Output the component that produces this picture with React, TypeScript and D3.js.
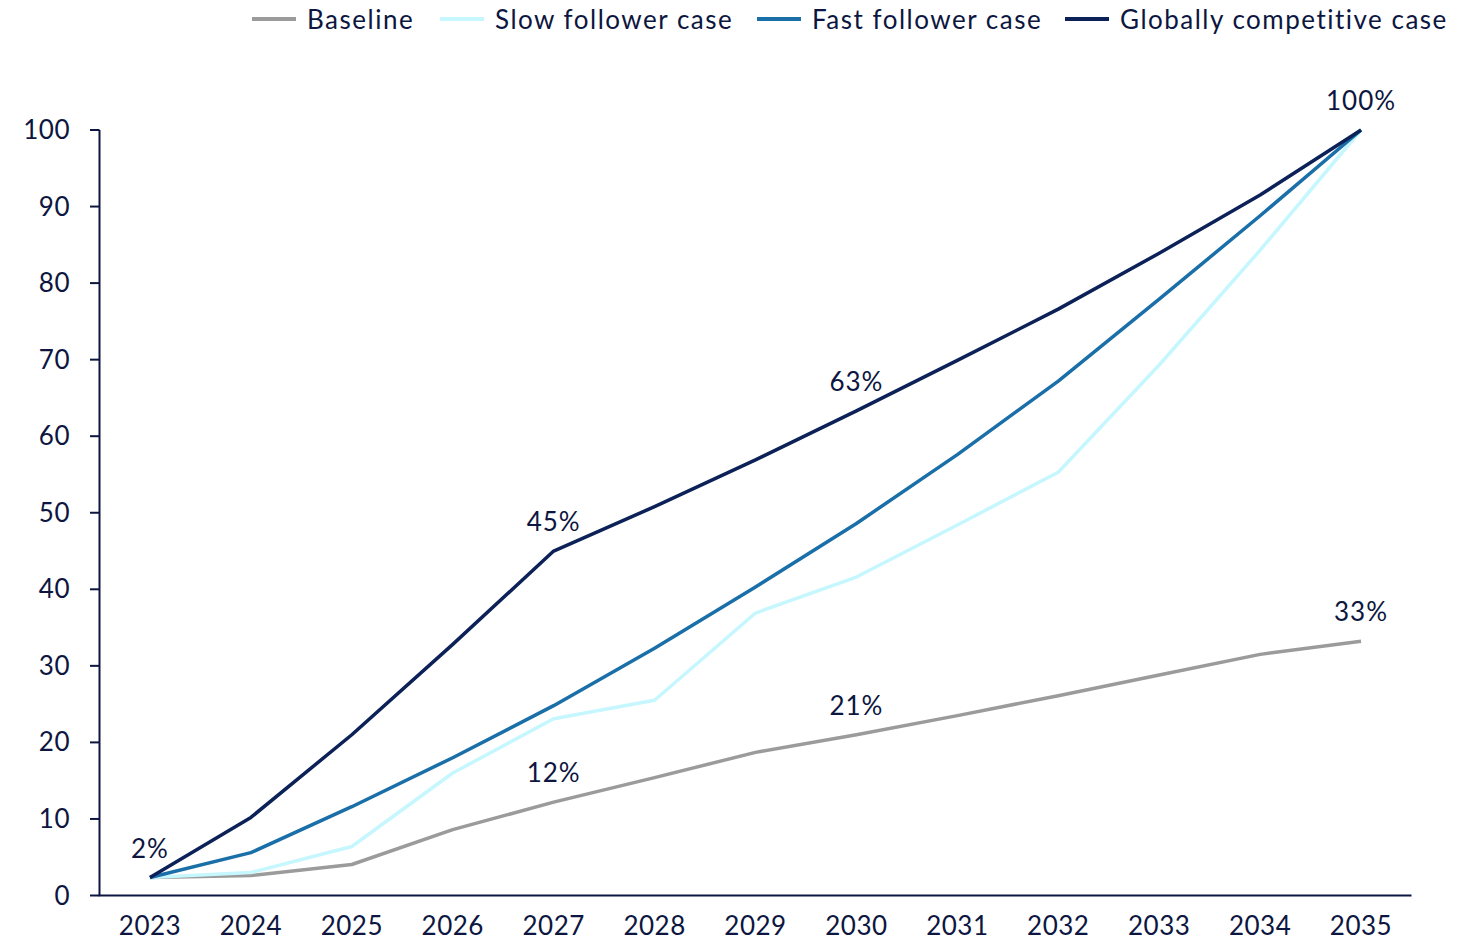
import React from "react";
import * as d3 from "d3";

const years = ["2023","2024","2025","2026","2027","2028","2029","2030","2031","2032","2033","2034","2035"];
const baseline = [2.35, 2.6, 4.05, 8.6, 12.2, 15.4, 18.7, 21, 23.5, 26.1, 28.8, 31.5, 33.2];
const slowFollower = [2.35, 3.0, 6.4, 16, 23.1, 25.5, 36.9, 41.6, 48.4, 55.3, 69.3, 84.3, 100];
const fastFollower = [2.35, 5.6, 11.6, 18, 24.8, 32.3, 40.3, 48.6, 57.6, 67.2, 77.9, 88.8, 100];
const globallyCompetitive = [2.35, 10.2, 21, 32.8, 45, 50.8, 56.9, 63.3, 69.9, 76.6, 83.9, 91.5, 100];
const yTicks = [0, 10, 20, 30, 40, 50, 60, 70, 80, 90, 100];

const seriesNames = ["Baseline", "Slow follower case", "Fast follower case", "Globally competitive case"];
const seriesColors = ["#9b9b9b", "#c6f7fe", "#1a6fa8", "#0b2157"];
const seriesValues = [baseline, slowFollower, fastFollower, globallyCompetitive];

// annotations: [seriesIndex, yearIndex, label]
const annotations: [number, number, string][] = [
  [0, 0, "2%"],
  [0, 4, "12%"],
  [0, 7, "21%"],
  [0, 12, "33%"],
  [3, 4, "45%"],
  [3, 7, "63%"],
  [3, 12, "100%"],
];

const legendX = [252, 440, 757, 1065];

const TEXT = "#0c1640";
const FONT = "Lato, 'Open Sans', sans-serif";

export default function App() {
  const W = 1481, H = 941;
  const x = d3.scalePoint<string>().domain(years).range([99.5, 1411.5]).padding(0.5);
  const y = d3.scaleLinear().domain([0, 100]).range([895.5, 130]);
  const line = d3.line<number>().x((_, i) => x(years[i])!).y((d) => y(d));

  return (
    <svg width={W} height={H} style={{ position: "absolute", left: 0, top: 0, background: "#fff" }} fontFamily={FONT}>
      {/* legend */}
      {seriesNames.map((n, i) => (
        <g key={n}>
          <line x1={legendX[i]} x2={legendX[i] + 44} y1={19} y2={19} stroke={seriesColors[i]} strokeWidth={4} />
          <text x={legendX[i] + 55} y={29} fontSize={26} letterSpacing={1.5} fill={TEXT}>{n}</text>
        </g>
      ))}
      {/* axes */}
      <line x1={99.5} x2={99.5} y1={130} y2={896} stroke={TEXT} strokeWidth={2} />
      <line x1={98.5} x2={1411.5} y1={895.5} y2={895.5} stroke={TEXT} strokeWidth={2} />
      {yTicks.map((t) => (
        <g key={t}>
          <line x1={90} x2={99.5} y1={y(t)} y2={y(t)} stroke={TEXT} strokeWidth={2} />
          <text x={70} y={y(t) + 9} fontSize={26} letterSpacing={0.5} fill={TEXT} textAnchor="end">{t}</text>
        </g>
      ))}
      {years.map((yr) => (
        <text key={yr} x={x(yr)} y={935} fontSize={26} letterSpacing={0.5} fill={TEXT} textAnchor="middle">{yr}</text>
      ))}
      {/* lines */}
      {seriesValues.map((vals, i) => (
        <path key={i} d={line(vals)!} fill="none" stroke={seriesColors[i]} strokeWidth={3.5} strokeLinejoin="round" />
      ))}
      {/* annotations */}
      {annotations.map(([s, yi, lab], k) => (
        <text key={k} x={x(years[yi])} y={y(seriesValues[s][yi]) - 20} fontSize={26} letterSpacing={1} fill={TEXT} textAnchor="middle">{lab}</text>
      ))}
    </svg>
  );
}
